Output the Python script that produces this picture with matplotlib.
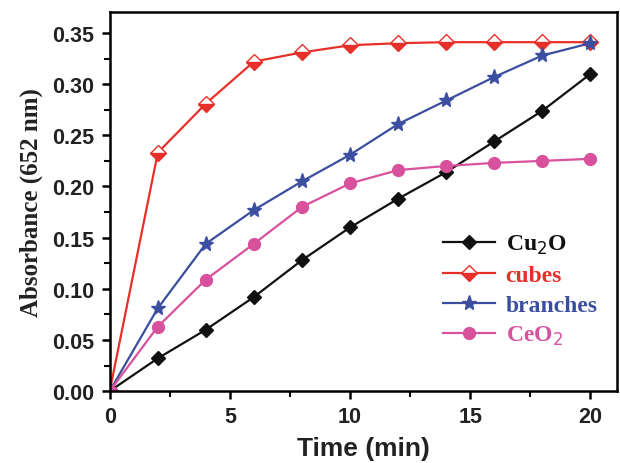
import numpy as np
import matplotlib
matplotlib.use('Agg')
from matplotlib import pyplot as plt
from matplotlib.ticker import MultipleLocator

# tempo (min)
tempo = [0, 2, 4, 6, 8, 10, 12, 14, 16, 18, 20]
# absorbancia a 652 nm
cu2o = [0, 0.032, 0.060, 0.092, 0.128, 0.160, 0.188, 0.214, 0.244, 0.274, 0.310]
cubes = [0, 0.233, 0.281, 0.322, 0.331, 0.338, 0.340, 0.341, 0.341, 0.341, 0.341]
branches = [0, 0.081, 0.144, 0.177, 0.205, 0.231, 0.261, 0.284, 0.307, 0.328, 0.340]
ceo2 = [0, 0.063, 0.109, 0.144, 0.180, 0.203, 0.216, 0.220, 0.223, 0.225, 0.227]

preto = '#111111'
vermelho = '#e8302a'
azul = '#3b4ea0'
rosa = '#d8519c'

fig = plt.figure(figsize=(6.2, 4.64), dpi=100)
ax = fig.add_axes([0.177, 0.155, 0.818, 0.817])

ax.plot(tempo, cu2o, color=preto, lw=1.6, marker='D', ms=7.5, mfc=preto, mec=preto,
        label='Cu$_2$O')
ax.plot(tempo, cubes, color=vermelho, lw=1.6, marker='D', ms=8.5, fillstyle='bottom',
        mfc=vermelho, mfcalt='white', mec=vermelho, mew=1.0, label='cubes')
ax.plot(tempo, branches, color=azul, lw=1.6, marker='*', ms=11, mfc=azul, mec=azul,
        label='branches')
ax.plot(tempo, ceo2, color=rosa, lw=1.6, marker='o', ms=8.5, mfc=rosa, mec=rosa,
        label='CeO$_2$')

ax.set_xlim(0, 21.1)
ax.set_ylim(0, 0.3705)
ax.xaxis.set_major_locator(MultipleLocator(5))
ax.xaxis.set_minor_locator(MultipleLocator(2.5))
ax.yaxis.set_major_locator(MultipleLocator(0.05))
ax.yaxis.set_minor_locator(MultipleLocator(0.025))
ax.yaxis.set_major_formatter(matplotlib.ticker.FormatStrFormatter('%.2f'))

for s in ax.spines.values():
    s.set_linewidth(1.8)
ax.tick_params(which='major', direction='out', length=6, width=1.8,
               labelsize=15.5, pad=5)
ax.tick_params(which='minor', direction='out', length=4, width=1.5)
for lbl in ax.get_xticklabels() + ax.get_yticklabels():
    lbl.set_fontfamily('Liberation Sans')
    lbl.set_fontweight('bold')
    lbl.set_color('#222222')

ax.set_xlabel('Time (min)', fontsize=19, fontweight='bold', family='Liberation Sans',
              color='#222222', labelpad=6)
ax.set_ylabel('Absorbance (652 nm)', fontsize=18, fontweight='bold',
              family='Liberation Serif', color='#222222', labelpad=7)

leg = ax.legend(loc='upper left', bbox_to_anchor=(0.657, 0.417), frameon=False,
                prop={'family': 'Liberation Serif', 'weight': 'bold', 'size': 17},
                handlelength=2.2, labelspacing=0.35, handletextpad=0.45,
                borderpad=0, borderaxespad=0)
for txt, cor in zip(leg.get_texts(), [preto, vermelho, azul, rosa]):
    txt.set_color(cor)

fig.savefig('out.png', dpi=100)
